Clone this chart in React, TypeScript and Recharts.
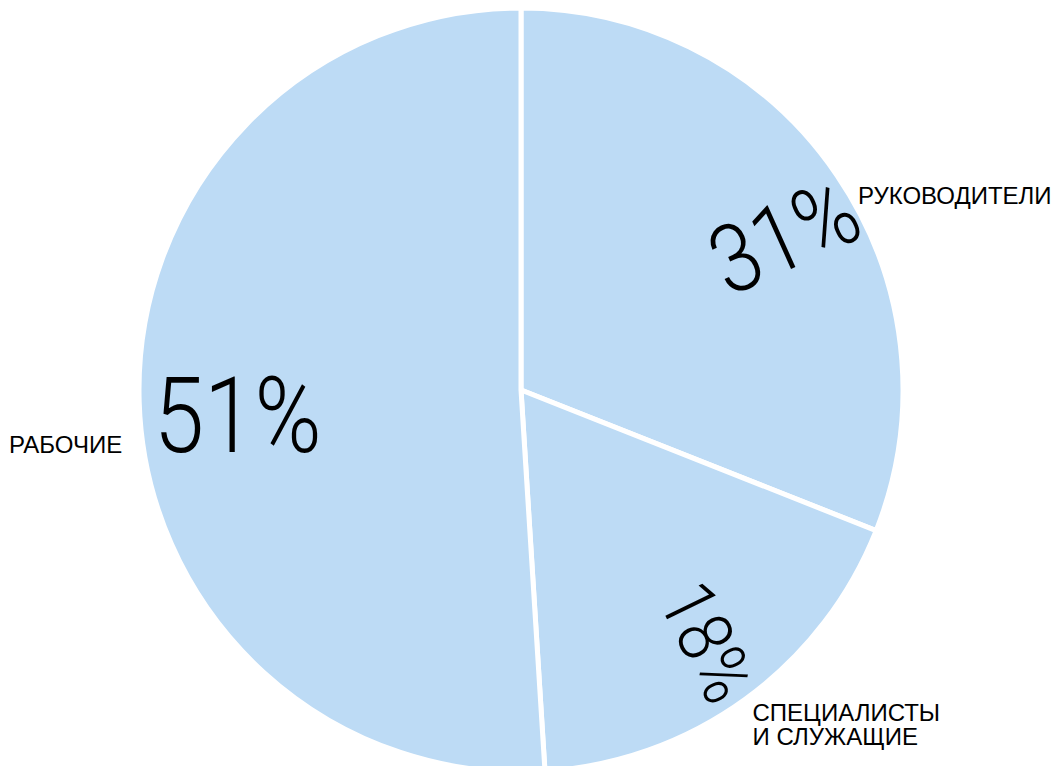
import React from 'react';
import { PieChart, Pie, Cell } from 'recharts';

const categories = ['РУКОВОДИТЕЛИ', 'СПЕЦИАЛИСТЫ\nИ СЛУЖАЩИЕ', 'РАБОЧИЕ'];
const values = [31, 18, 51];

const data = categories.map((name, i) => ({ name, value: values[i] }));

const FILL = '#BDDBF5';
const RAD = Math.PI / 180;

// style offsets for the labels, relative to slice geometry
const outerOffsets = [
  { dx: 21, dy: 29, anchor: 'start' },
  { dx: 7, dy: 22, anchor: 'start' },
  { dx: -17, dy: 51, anchor: 'end' },
];
const innerRadiusFactor = [0.78, 0.83, 0.75];
const innerShift = [
  { dx: 17, dy: 14 },
  { dx: 0, dy: -4 },
  { dx: 3, dy: 18 },
];
const percentFontSize = [95, 76, 105];

const renderLabel = (props: any) => {
  const { cx, cy, midAngle, outerRadius, index, value, name } = props;
  const cos = Math.cos(-midAngle * RAD);
  const sin = Math.sin(-midAngle * RAD);
  const r = outerRadius * innerRadiusFactor[index];
  const px = cx + r * cos + innerShift[index].dx;
  const py = cy + r * sin + innerShift[index].dy;
  const rot = cos > 0 ? -midAngle + 10 : 0;
  const fontSize = percentFontSize[index];
  const ox = cx + outerRadius * cos + outerOffsets[index].dx;
  const oy = cy + outerRadius * sin + outerOffsets[index].dy;
  const lines = String(name).split('\n');
  return (
    <g>
      <text
        x={px}
        y={py}
        textAnchor="middle"
        dominantBaseline="central"
        transform={`rotate(${rot} ${px} ${py})`}
        fontFamily="Roboto, sans-serif"
        fontWeight={300}
        fontSize={fontSize}
        fill="#000"
        textLength={fontSize * 1.6}
        lengthAdjust="spacingAndGlyphs"
      >
        {`${value}%`}
      </text>
      <text
        x={ox}
        y={oy}
        textAnchor={outerOffsets[index].anchor as any}
        fontFamily="'Liberation Sans', Arial, sans-serif"
        fontSize={24}
        fill="#000"
      >
        {lines.map((l, i) => (
          <tspan key={i} x={ox} dy={i === 0 ? 0 : 24}>
            {l}
          </tspan>
        ))}
      </text>
    </g>
  );
};

export default function App() {
  return (
    <div style={{ position: 'absolute', left: 0, top: 0, width: 1061, height: 766, background: '#fff' }}>
      <PieChart width={1061} height={766} margin={{ top: 0, right: 0, bottom: 0, left: 0 }}>
        <Pie
          data={data}
          dataKey="value"
          nameKey="name"
          cx={521}
          cy={390}
          outerRadius={382}
          startAngle={90}
          endAngle={-270}
          stroke="#fff"
          strokeWidth={5}
          label={renderLabel}
          labelLine={false}
          isAnimationActive={false}
        >
          {data.map((d, i) => (
            <Cell key={i} fill={FILL} />
          ))}
        </Pie>
      </PieChart>
    </div>
  );
}
